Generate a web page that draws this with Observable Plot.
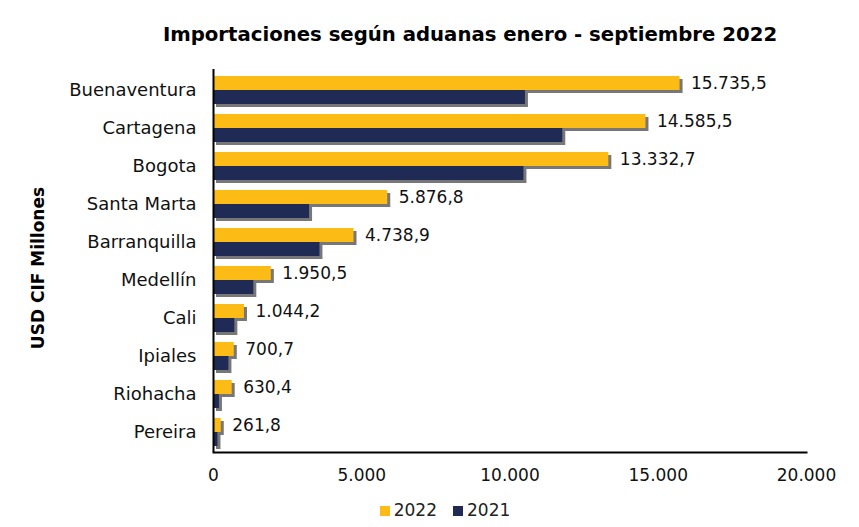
<!DOCTYPE html>
<html>
<head>
<meta charset="utf-8">
<script src="https://cdn.jsdelivr.net/npm/d3@7"></script>
<script src="https://cdn.jsdelivr.net/npm/@observablehq/plot@0.6"></script>
<style>
  body { margin: 0; background: #fff; font-family: "DejaVu Sans", sans-serif; }
  #wrap { width: 859px; height: 527px; position: relative; overflow: hidden; background: #fff; }
  #title { position: absolute; left: 0; width: 940px; top: 23px; text-align: center; font-weight: bold; font-size: 19.7px; color: #000; }
  #chart { position: absolute; left: 0; top: 56px; }
  #ylab { position: absolute; left: 38px; top: 268px; transform: translate(-50%, -50%) rotate(-90deg); font-weight: bold; font-size: 17px; white-space: nowrap; color: #000; z-index: 5; }
  #legend { position: absolute; top: 500px; left: 0; width: 890px; text-align: center; font-size: 17px; color: #222; }
  #legend span.sw { display: inline-block; width: 10px; height: 10px; margin-right: 4px; vertical-align: 0px; }
  #legend span.it { margin: 0 8px; }
</style>
</head>
<body>
<div id="wrap">
  <div id="title">Importaciones según aduanas enero - septiembre 2022</div>
  <div id="chart"></div>
  <div id="ylab">USD CIF Millones</div>
  <div id="legend"></div>
</div>
<script>
const cities = ["Buenaventura","Cartagena","Bogota","Santa Marta","Barranquilla","Medellín","Cali","Ipiales","Riohacha","Pereira"];
const values2022 = [15735.5,14585.5,13332.7,5876.8,4738.9,1950.5,1044.2,700.7,630.4,261.8];
const values2021 = [10520,11780,10470,3240,3590,1360,720,520,200,150];
const xTicks = [0,5000,10000,15000,20000];
const seriesNames = ["2022","2021"];
const seriesColors = ["#FDBB16","#1F2B55"];

const loc = d3.formatLocale({decimal: ",", thousands: ".", grouping: [3], currency: ["", ""]});
const fmtVal = loc.format(",.1f");
const fmtTick = loc.format(",.0f");

const rows = cities.map((c, i) => ({city: c, v2022: values2022[i], v2021: values2021[i]}));

const half = 14;
const chart = Plot.plot({
  width: 859,
  height: 430,
  marginLeft: 213,
  marginRight: 53,
  marginTop: 13,
  marginBottom: 34,
  style: {fontFamily: "DejaVu Sans, sans-serif", fontSize: "16px", color: "#111", background: "transparent"},
  x: {domain: [0, 20000], ticks: xTicks, tickFormat: fmtTick},
  y: {domain: cities, paddingInner: 0.27, paddingOuter: 0.135, label: null},
  marks: [
    // shadows
    Plot.barX(rows, {x: "v2022", y: "city", insetBottom: half, fill: "#777", dx: 3, dy: 3, ariaLabel: "shadow"}),
    Plot.barX(rows, {x: "v2021", y: "city", insetTop: half, fill: "#777", dx: 3, dy: 3, ariaLabel: "shadow"}),
    Plot.barX(rows, {x: "v2022", y: "city", insetBottom: half, fill: seriesColors[0]}),
    Plot.barX(rows, {x: "v2021", y: "city", insetTop: half, fill: seriesColors[1]}),
    Plot.text(rows, {x: "v2022", y: "city", text: d => fmtVal(d.v2022), textAnchor: "start", dx: 11, dy: -7, fontSize: 17, fill: "#111"}),
    Plot.ruleX([0], {stroke: "#000", strokeWidth: 2}),
    Plot.frame({anchor: "bottom", stroke: "#000", strokeWidth: 2}),
    Plot.axisY({tickSize: 0, tickPadding: 17, fontSize: 18, label: null}),
    Plot.axisX({ticks: xTicks, tickSize: 0, tickPadding: 16, tickFormat: fmtTick, fontSize: 17, label: null})
  ]
});

// blur filter for shadows
const ns = "http://www.w3.org/2000/svg";
const defs = document.createElementNS(ns, "defs");
const filter = document.createElementNS(ns, "filter");
filter.setAttribute("id", "shadowBlur");
filter.setAttribute("x", "-10%"); filter.setAttribute("y", "-60%");
filter.setAttribute("width", "120%"); filter.setAttribute("height", "220%");
const blur = document.createElementNS(ns, "feGaussianBlur");
blur.setAttribute("stdDeviation", "2.4");
filter.appendChild(blur);
defs.appendChild(filter);
chart.insertBefore(defs, chart.firstChild);
chart.querySelectorAll('g[aria-label="shadow"]').forEach(g => {
  g.setAttribute("filter", "url(#shadowBlur)");
  g.setAttribute("opacity", "0.7");
});

document.getElementById("chart").appendChild(chart);

const legend = document.getElementById("legend");
seriesNames.forEach((n, i) => {
  const it = document.createElement("span");
  it.className = "it";
  const sw = document.createElement("span");
  sw.className = "sw";
  sw.style.background = seriesColors[i];
  it.appendChild(sw);
  it.appendChild(document.createTextNode(n));
  legend.appendChild(it);
});
</script>
</body>
</html>
